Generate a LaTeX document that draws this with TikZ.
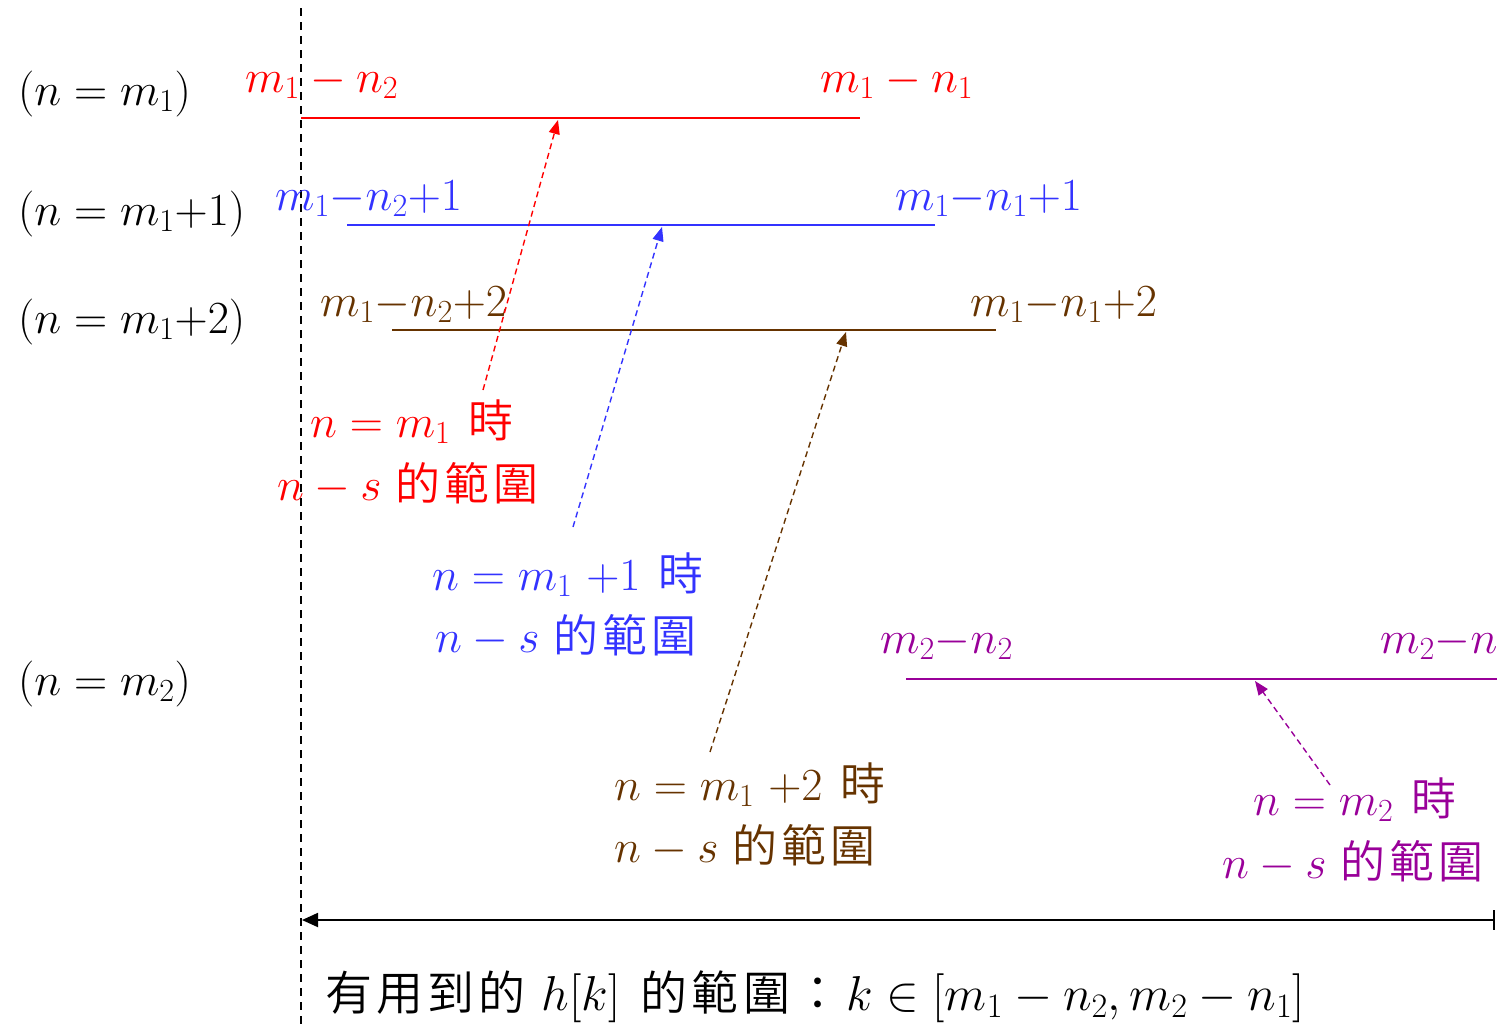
\documentclass[tikz,border=0pt]{standalone}
\usepackage{fontspec}
\usepackage{fix-cm}
\IfFontExistsTF{Noto Sans CJK TC DemiLight}
  {\newfontfamily\cjk{Noto Sans CJK TC DemiLight}[LetterSpace=9]}
  {\IfFontExistsTF{Noto Sans CJK TC Light}
    {\newfontfamily\cjk{Noto Sans CJK TC Light}[LetterSpace=9]}
    {\newfontfamily\cjk{Noto Sans CJK TC}[LetterSpace=9]}}
\usetikzlibrary{arrows.meta}
\definecolor{cred}{RGB}{255,0,0}
\definecolor{cblue}{RGB}{51,51,255}
\definecolor{cbrown}{RGB}{102,51,0}
\definecolor{cpurple}{RGB}{153,0,153}
\newcommand\C[1]{{\cjk\fontsize{45bp}{52bp}\selectfont #1}}
\newcommand\Cb[1]{{\cjk\fontsize{47bp}{52bp}\selectfont #1}}
\tikzset{
  txt/.style={anchor=base west,inner sep=0pt,font=\fontsize{46bp}{52bp}\selectfont},
  rng/.style={line width=2.6bp},
  darr/.style={dashed,dash pattern=on 6bp off 4bp,line width=1.4bp,-{Triangle[width=11bp,length=14bp]}},
}
\begin{document}
\begin{tikzpicture}[x=1bp,y=-1bp]
\useasboundingbox (0,0) rectangle (1497,1026);
% vertical dashed axis
\coordinate (vt) at (301,8);
\coordinate (vb) at (301,1026);
\draw[dash pattern=on 8bp off 6bp,line width=1.3bp] (vt) -- (vb);
% left labels
\node[txt] (l1) at (18,105) {$(n = m_1)$};
\node[txt] (l2) at (18,225) {$(n = m_1{+}1)$};
\node[txt] (l3) at (18,333) {$(n = m_1{+}2)$};
\node[txt] (l4) at (18,695) {$(n = m_2)$};
% red range
\coordinate (r1) at (301,118); \coordinate (r2) at (860,118);
\draw[cred,rng] (r1) -- (r2);
\node[txt,text=cred] (rl) at (245,92) {$m_1 - n_2$};
\node[txt,text=cred] (rr) at (820,92) {$m_1 - n_1$};
% blue range
\coordinate (b1) at (347,225); \coordinate (b2) at (935,225);
\draw[cblue,line width=1.8bp] (b1) -- (b2);
\node[txt,text=cblue] (bl) at (275,210) {$m_1{-}n_2{+}1$};
\node[txt,text=cblue] (br) at (895,210) {$m_1{-}n_1{+}1$};
% brown range
\coordinate (w1) at (392,330); \coordinate (w2) at (996,330);
\draw[cbrown,line width=1.8bp] (w1) -- (w2);
\node[txt,text=cbrown] (wl) at (320,316) {$m_1{-}n_2{+}2$};
\node[txt,text=cbrown] (wr) at (970,316) {$m_1{-}n_1{+}2$};
% purple range
\coordinate (p1) at (906,679); \coordinate (p2) at (1497,679);
\draw[cpurple,rng] (p1) -- (p2);
\node[txt,text=cpurple] (pl) at (880,653) {$m_2{-}n_2$};
\node[txt,text=cpurple] (pr) at (1380,653) {$m_2{-}n_1$};
% red label and arrow
\node[txt,text=cred] (ra) at (310,437) {$n = m_1$\hspace{4bp} \C{時}};
\node[txt,text=cred] (rb) at (277,500) {$n - s$ \C{的範圍}};
\coordinate (rs) at (483,390); \coordinate (re) at (558,120);
\draw[darr,cred] (rs) -- (re);
% blue label and arrow
\node[txt,text=cblue] (ba) at (432,590) {$n = m_1\ {+}1$\hspace{4bp} \C{時}};
\node[txt,text=cblue] (bb) at (435,652) {$n - s$ \C{的範圍}};
\coordinate (bs) at (573,527); \coordinate (be) at (662,227);
\draw[darr,cblue] (bs) -- (be);
% brown label and arrow
\node[txt,text=cbrown] (wa) at (614,800) {$n = m_1\ {+}2$\hspace{4bp} \C{時}};
\node[txt,text=cbrown] (wb) at (614,862) {$n - s$ \C{的範圍}};
\coordinate (ws) at (710,752); \coordinate (we) at (846,332);
\draw[darr,cbrown] (ws) -- (we);
% purple label and arrow
\node[txt,text=cpurple] (pa) at (1253,815) {$n = m_2$\hspace{4bp} \C{時}};
\node[txt,text=cpurple] (pb) at (1222,878) {$n - s$ \C{的範圍}};
\coordinate (ps) at (1330,785); \coordinate (pe) at (1255,681);
\draw[darr,cpurple] (ps) -- (pe);
% bottom arrow
\coordinate (ha) at (302,920); \coordinate (hb) at (1495,920);
\draw[line width=1.8bp,{Triangle[width=14bp,length=16bp]}-{Bar[width=20bp]}] (ha) -- (hb);
\node[txt,font=\fontsize{49bp}{52bp}\selectfont] (bt) at (325,1010) {\Cb{有用到的}\hspace{16bp}$h[k]$\hspace{20bp}\Cb{的範圍：}\hspace{5bp}$k \in [m_1 - n_2, m_2 - n_1]$};
\end{tikzpicture}
\end{document}
